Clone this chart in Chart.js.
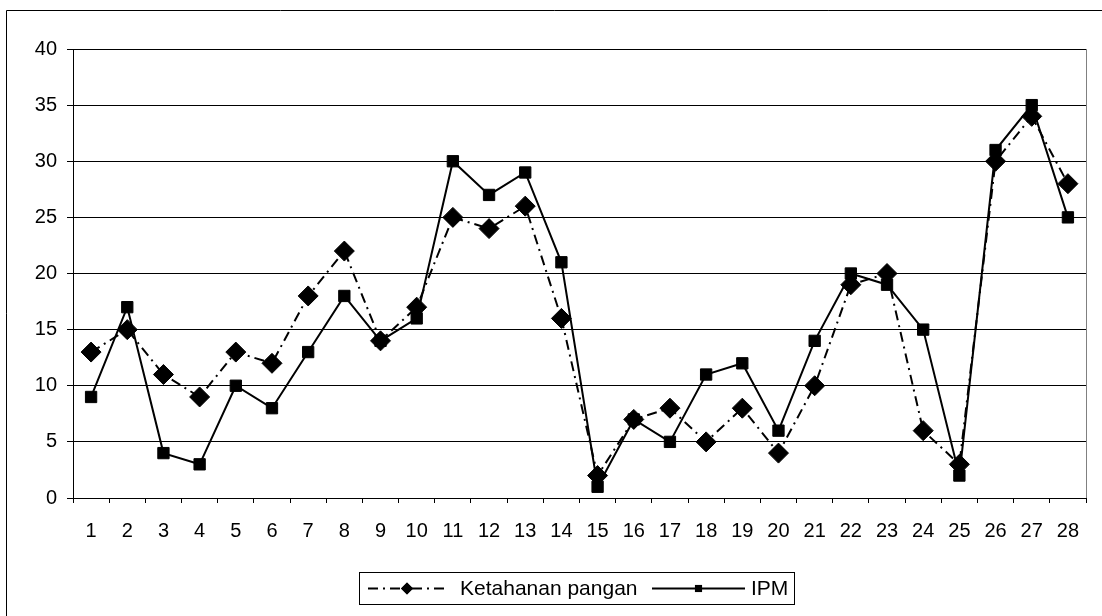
<!DOCTYPE html>
<html>
<head>
<meta charset="utf-8">
<script src="https://cdn.jsdelivr.net/npm/chart.js@4.4.1/dist/chart.umd.min.js"></script>
<style>
  html, body { margin: 0; padding: 0; background: #fff; }
  #wrap { position: relative; width: 1102px; height: 616px; }
</style>
</head>
<body>
<div id="wrap"><canvas id="chart"></canvas></div>
<script>
const labels = ['1','2','3','4','5','6','7','8','9','10','11','12','13','14','15','16','17','18','19','20','21','22','23','24','25','26','27','28'];
const ketahananPangan = [13, 15, 11, 9, 13, 12, 18, 22, 14, 17, 25, 24, 26, 16, 2, 7, 8, 5, 8, 4, 10, 19, 20, 6, 3, 30, 34, 28];
const ipm = [9, 17, 4, 3, 10, 8, 13, 18, 14, 16, 30, 27, 29, 21, 1, 7, 5, 11, 12, 6, 14, 20, 19, 15, 2, 31, 35, 25];
const yTicks = [0, 5, 10, 15, 20, 25, 30, 35, 40];

const FONT = 'Liberation Sans, Arial, sans-serif';

// outer frame, right edge of plot and the boxed legend
const framePlugin = {
    id: 'frame',
    beforeDraw(chart) {
        const ctx = chart.ctx;
        ctx.save();
        ctx.strokeStyle = '#000';
        ctx.lineWidth = 1;
        ctx.beginPath();
        ctx.moveTo(6.5, 616);
        ctx.lineTo(6.5, 10.5);
        ctx.lineTo(1102, 10.5);
        ctx.stroke();
        ctx.restore();
    },
    afterDraw(chart) {
        const ctx = chart.ctx;
        const a = chart.chartArea;
        ctx.save();
        ctx.strokeStyle = '#808080';
        ctx.lineWidth = 1;
        ctx.beginPath();
        ctx.moveTo(a.right + 0.5, a.top);
        ctx.lineTo(a.right + 0.5, a.bottom);
        ctx.stroke();

        // legend box
        const bx = 359.5, by = 572.5, bw = 435, bh = 32;
        ctx.strokeStyle = '#000';
        ctx.strokeRect(bx, by, bw, bh);
        const cy = by + bh / 2;
        ctx.font = '21px ' + FONT;
        ctx.fillStyle = '#000';
        ctx.textBaseline = 'middle';

        const ds = chart.data.datasets;
        const items = [
            { ds: ds[0], x1: 368, x2: 446, tx: 460 },
            { ds: ds[1], x1: 652, x2: 745, tx: 751 }
        ];
        items.forEach(it => {
            ctx.save();
            ctx.strokeStyle = '#000';
            ctx.lineWidth = 2;
            ctx.setLineDash(it.ds.borderDash || []);
            ctx.beginPath();
            ctx.moveTo(it.x1, cy);
            ctx.lineTo(it.x2, cy);
            ctx.stroke();
            ctx.restore();
            Chart.helpers.drawPoint(ctx, {
                pointStyle: it.ds.pointStyle,
                radius: it.ds.pointStyle === 'rectRot' ? 6 : 5,
                borderWidth: 0
            }, (it.x1 + it.x2) / 2, cy);
            ctx.fill();
            ctx.fillText(it.ds.label, it.tx, cy + 1);
        });
        ctx.restore();
    }
};

new Chart(document.getElementById('chart'), {
    type: 'line',
    data: {
        labels: labels,
        datasets: [
            {
                label: 'Ketahanan pangan',
                data: ketahananPangan,
                borderColor: '#000',
                backgroundColor: '#000',
                borderWidth: 2,
                borderDash: [10, 5, 2, 5],
                pointStyle: 'rectRot',
                pointRadius: 10,
                pointBorderWidth: 1,
                pointBackgroundColor: '#000',
                pointBorderColor: '#000',
                tension: 0
            },
            {
                label: 'IPM',
                data: ipm,
                borderColor: '#000',
                backgroundColor: '#000',
                borderWidth: 2,
                pointStyle: 'rect',
                pointRadius: 8,
                pointBorderWidth: 1,
                pointBackgroundColor: '#000',
                pointBorderColor: '#000',
                tension: 0
            }
        ]
    },
    options: {
        responsive: true,
        maintainAspectRatio: false,
        animation: false,
        layout: { padding: { left: 0, top: 49, right: 16, bottom: 0 } },
        plugins: {
            legend: { display: false },
            tooltip: { enabled: false }
        },
        scales: {
            x: {
                offset: true,
                afterFit: s => { s.height = 118; },
                grid: {
                    offset: true,
                    drawOnChartArea: false,
                    drawTicks: true,
                    tickLength: 5,
                    color: '#000'
                },
                border: { color: '#000', width: 1 },
                ticks: {
                    color: '#000',
                    font: { family: FONT, size: 20 },
                    padding: 16,
                    maxRotation: 0,
                    autoSkip: false
                }
            },
            y: {
                min: 0,
                max: 40,
                afterFit: s => { s.width = 73; },
                afterBuildTicks: s => { s.ticks = yTicks.map(v => ({ value: v })); },
                grid: {
                    color: '#000',
                    drawTicks: true,
                    tickLength: 6
                },
                border: { color: '#000', width: 1 },
                ticks: {
                    color: '#000',
                    font: { family: FONT, size: 20 },
                    padding: 10
                }
            }
        }
    },
    plugins: [framePlugin]
});
</script>
</body>
</html>
